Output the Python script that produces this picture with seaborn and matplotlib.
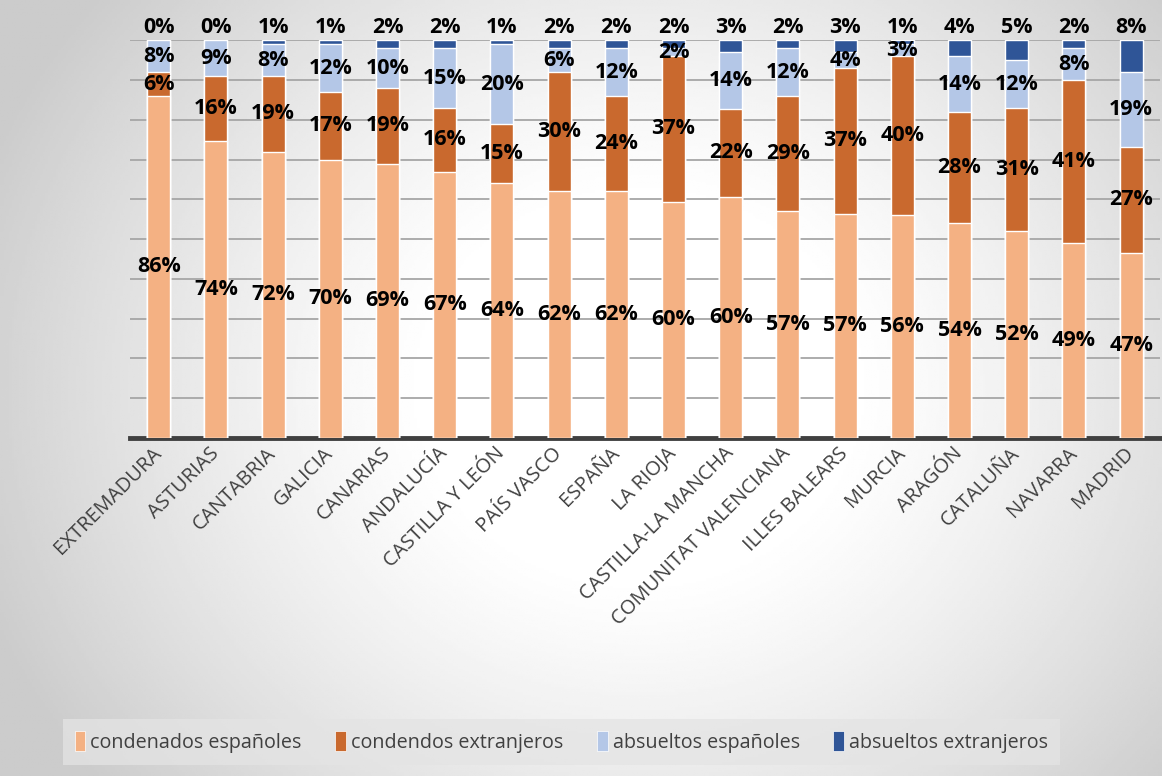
import numpy as np
import pandas as pd
import seaborn as sns
import matplotlib.pyplot as plt
from matplotlib.patches import Patch

regions = ['EXTREMADURA', 'ASTURIAS', 'CANTABRIA', 'GALICIA', 'CANARIAS', 'ANDALUCÍA',
           'CASTILLA Y LEÓN', 'PAÍS VASCO', 'ESPAÑA', 'LA RIOJA', 'CASTILLA-LA MANCHA',
           'COMUNITAT VALENCIANA', 'ILLES BALEARS', 'MURCIA', 'ARAGÓN', 'CATALUÑA',
           'NAVARRA', 'MADRID']

condenados_esp = [86, 74, 72, 70, 69, 67, 64, 62, 62, 60, 60, 57, 57, 56, 54, 52, 49, 47]
condenados_ext = [6, 16, 19, 17, 19, 16, 15, 30, 24, 37, 22, 29, 37, 40, 28, 31, 41, 27]
absueltos_esp = [8, 9, 8, 12, 10, 15, 20, 6, 12, 2, 14, 12, 4, 3, 14, 12, 8, 19]
absueltos_ext = [0, 0, 1, 1, 2, 2, 1, 2, 2, 2, 3, 2, 3, 1, 4, 5, 2, 8]

series_names = ['condenados españoles', 'condendos extranjeros',
                'absueltos españoles', 'absueltos extranjeros']
colors = ['#F4B183', '#C9692E', '#B4C7E7', '#2F5597']

df = pd.DataFrame({'region': regions,
                   series_names[0]: condenados_esp,
                   series_names[1]: condenados_ext,
                   series_names[2]: absueltos_esp,
                   series_names[3]: absueltos_ext})

# 100% stacked: normalise each row
vals = df[series_names].astype(float)
share = vals.div(vals.sum(axis=1), axis=0) * 100
cum = share.cumsum(axis=1)

plt.rcParams['font.family'] = ['Open Sans', 'DejaVu Sans']
fig = plt.figure(figsize=(11.62, 7.76), dpi=100)

# radial grey-white background like the original
bg = fig.add_axes([0, 0, 1, 1], zorder=-5)
yy, xx = np.mgrid[0:1:300j, 0:1:450j]
r = np.sqrt(((xx - 0.55) / 0.6) ** 2 + ((yy - 0.5) / 0.8) ** 2)
grad = 1 - 0.2 * np.clip((r - 0.3) / 0.7, 0, 1) ** 1.2
bg.imshow(grad, cmap='gray', vmin=0, vmax=1, aspect='auto', extent=[0, 1, 0, 1])
bg.axis('off')

ax = fig.add_axes([0.112, 0.4356, 0.886, 0.5124])
ax.set_facecolor('none')

# draw from the full stack down so each layer covers the one below
for i in range(3, -1, -1):
    sns.barplot(x=df['region'], y=cum[series_names[i]], order=regions, color=colors[i],
                saturation=1, width=0.4, edgecolor='white', linewidth=1, ax=ax, zorder=3)

for j in range(len(regions)):
    bottom = 0
    for i, name in enumerate(series_names):
        h = share[name].iloc[j]
        lbl = f'{int(vals[name].iloc[j])}%'
        if i == 3:
            ax.text(j, 103.3, lbl, ha='center', va='center', fontsize=15.5,
                    fontweight='bold', color='black', clip_on=False, zorder=5)
        else:
            ax.text(j, bottom + h / 2, lbl, ha='center', va='center', fontsize=15.5,
                    fontweight='bold', color='black', zorder=5)
        bottom += h

ax.set_ylim(0, 100)
ax.set_xlim(-0.5, len(regions) - 0.5)
ax.set_yticks(range(0, 101, 10))
ax.set_yticklabels([])
ax.yaxis.grid(True, color='#A6A6A6', linewidth=1.3)
ax.set_axisbelow(True)
ax.tick_params(axis='both', length=0)
ax.tick_params(axis='x', pad=9)
ax.set_xlabel('')
ax.set_ylabel('')
for s in ['top', 'right', 'left']:
    ax.spines[s].set_visible(False)
ax.spines['bottom'].set_color('#404040')
ax.spines['bottom'].set_linewidth(3.5)

for t in ax.get_xticklabels():
    t.set_rotation(45)
    t.set_ha('right')
    t.set_va('center')
    t.set_rotation_mode('anchor')
    t.set_fontsize(14.5)
    t.set_color('#404040')

handles = [Patch(facecolor=c, edgecolor='white', linewidth=0.5) for c in colors]
leg = fig.legend(handles, series_names, loc='center', bbox_to_anchor=(0.483, 0.044),
                 ncol=4, frameon=True, fontsize=14.2, handlelength=0.55, handleheight=1.2,
                 handletextpad=0.25, columnspacing=1.7, borderpad=0.6)
leg.get_frame().set_facecolor('#E4E4E4')
leg.get_frame().set_edgecolor('none')
leg.get_frame().set_alpha(0.75)
leg.get_frame().set_boxstyle('square', pad=0)
for t in leg.get_texts():
    t.set_color('#404040')

fig.savefig('out.png', dpi=100)
